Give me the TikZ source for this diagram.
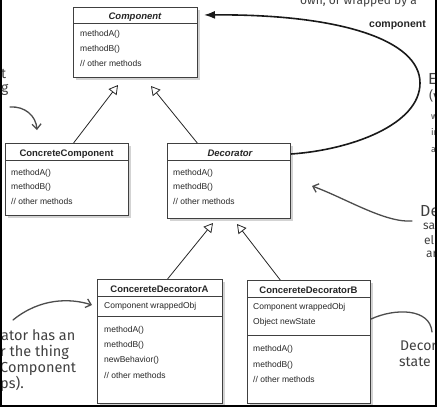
\documentclass[tikz,border=0pt]{standalone}
\usepackage{fontspec}
\setmainfont{Liberation Sans}
\newfontfamily\handfont{Fira Sans}
\usetikzlibrary{shadows,arrows.meta,calc}
\begin{document}
\begin{tikzpicture}[x=1pt,y=-1pt,
  box/.style={draw=black!75, line width=1pt, fill=white, inner sep=0pt, anchor=north west,
    drop shadow={opacity=0.35, shadow xshift=2.5pt, shadow yshift=-2.5pt}},
  sepline/.style={draw=black!75, line width=0.8pt},
  txt/.style={anchor=base west, inner sep=0pt, font=\fontsize{8.5}{10}\selectfont, text=black!85},
  ttl/.style={anchor=base, inner sep=0pt, font=\fontsize{9.5}{11}\selectfont\bfseries, text=black!85},
  ittl/.style={ttl, font=\fontsize{9.5}{11}\selectfont\bfseries\itshape},
  inh/.style={draw=black!85, line width=0.8pt, -{Triangle[open, length=9pt, width=10pt]}},
  handline/.style={draw=black!70, line width=1.3pt, line cap=round},
  handarrow/.style={handline, -{Straight Barb[length=5pt, width=9pt]}},
  handtxt/.style={inner sep=0pt, text=black!75, font=\handfont\fontsize{12}{14}\selectfont}]
\useasboundingbox (0,0) rectangle (439,408);

% ---------- boxes ----------
\node[box, minimum width=124pt, minimum height=70pt] (comp) at (73,7) {};
\draw[sepline] (comp.west |- 0,23) -- (comp.east |- 0,23);
\node[ittl] (compT) at (135,19) {Component};
\node[txt] (compA) at (80,36) {methodA()};
\node[txt] (compB) at (80,51) {methodB()};
\node[txt] (compO) at (80,66) {// other methods};

\node[box, minimum width=123pt, minimum height=72pt] (cc) at (5,143) {};
\draw[sepline] (cc.west |- 0,160) -- (cc.east |- 0,160);
\node[ttl] (ccT) at (66.5,156) {ConcreteComponent};
\node[txt] (ccA) at (11,175) {methodA()};
\node[txt] (ccB) at (11,189) {methodB()};
\node[txt] (ccO) at (11,204) {// other methods};

\node[box, minimum width=123pt, minimum height=75pt] (dec) at (167,143) {};
\draw[sepline] (dec.west |- 0,160) -- (dec.east |- 0,160);
\node[ittl] (decT) at (230,156) {Decorator};
\node[txt] (decA) at (173,175) {methodA()};
\node[txt] (decB) at (173,189) {methodB()};
\node[txt] (decO) at (173,204) {// other methods};

\node[box, minimum width=125pt, minimum height=124pt] (cda) at (97,279) {};
\draw[sepline] (cda.west |- 0,296) -- (cda.east |- 0,296);
\draw[sepline] (cda.west |- 0,316) -- (cda.east |- 0,316);
\node[ttl] (cdaT) at (159.5,292) {ConcereteDecoratorA};
\node[txt] (cdaW) at (104,308) {Component wrappedObj};
\node[txt] (cdaA) at (104,332) {methodA()};
\node[txt] (cdaB) at (104,347) {methodB()};
\node[txt] (cdaN) at (104,362) {newBehavior()};
\node[txt] (cdaO) at (104,378) {// other methods};

\node[box, minimum width=123pt, minimum height=123pt] (cdb) at (247,280) {};
\draw[sepline] (cdb.west |- 0,297) -- (cdb.east |- 0,297);
\draw[sepline] (cdb.west |- 0,335) -- (cdb.east |- 0,335);
\node[ttl] (cdbT) at (308.5,293) {ConcereteDecoratorB};
\node[txt] (cdbW) at (253,309) {Component wrappedObj};
\node[txt] (cdbS) at (253,324) {Object newState};
\node[txt] (cdbA) at (253,351) {methodA()};
\node[txt] (cdbB) at (253,367) {methodB()};
\node[txt] (cdbO) at (253,382) {// other methods};

% ---------- inheritance ----------
\coordinate (t1) at ($(comp.south west)+(45,7)$);
\coordinate (t2) at ($(comp.south west)+(78,8)$);
\coordinate (t3) at ($(dec.south west)+(46,4)$);
\coordinate (t4) at ($(dec.south west)+(70,5)$);
\draw[inh] ($(cc.north west)!0.553!(cc.north east)$) -- (t1);
\draw[inh] ($(dec.north west)!0.244!(dec.north east)$) -- (t2);
\draw[inh] ($(cda.north west)!0.56!(cda.north east)$) -- (t3);
\draw[inh] ($(cdb.north west)!0.268!(cdb.north east)$) -- (t4);

% ---------- composition loop ----------
\draw[line width=1.6pt, draw=black!90, shorten >=6pt, -{Latex[length=11pt, width=8pt]}]
  (dec.east |- 0,154) .. controls (350,150) and (420,125) .. (420,83)
  .. controls (420,40) and (340,14) .. (comp.east |- 0,15);

% ---------- handwritten annotations ----------
\begin{scope}
\clip (2,0) rectangle (435,405);
\node[handtxt, anchor=base west] (n1) at (300,4) {own, or wrapped by a};
\node[inner sep=0pt, anchor=base west, text=black!85, font=\fontsize{10.5}{12}\selectfont\bfseries] (n2) at (369,27) {component};
\node[handtxt, anchor=base west, font=\handfont\fontsize{16}{18}\selectfont] (n3) at (428,84) {E};
\node[handtxt, anchor=base west, font=\handfont\fontsize{13}{15}\selectfont] (n4) at (429,100) {(v};
\node[handtxt, anchor=base west, font=\handfont\fontsize{9}{11}\selectfont] (n5) at (431,119) {w};
\node[handtxt, anchor=base west, font=\handfont\fontsize{9}{11}\selectfont] (n6) at (431,135) {in};
\node[handtxt, anchor=base west, font=\handfont\fontsize{9}{11}\selectfont] (n7) at (431,152) {a};
\node[handtxt, anchor=base west, font=\handfont\fontsize{16}{18}\selectfont] (n8) at (420,216) {De};
\node[handtxt, anchor=base west] (n9) at (423,229) {sa};
\node[handtxt, anchor=base west] (n10) at (424,244) {el};
\node[handtxt, anchor=base west] (n11) at (426,257) {ar};
\node[handtxt, anchor=base west, font=\handfont\fontsize{14}{16}\selectfont] (n12) at (400,350) {Decor};
\node[handtxt, anchor=base west, font=\handfont\fontsize{14}{16}\selectfont] (n13) at (399,366) {state};
\node[handtxt, anchor=base west, font=\handfont\fontsize{14}{16}\selectfont] (n14) at (1,78) {t};
\node[handtxt, anchor=base west, font=\handfont\fontsize{14}{16}\selectfont] (n15) at (1,92) {g};
\node[handtxt, anchor=base west, font=\handfont\fontsize{14.5}{16}\selectfont] (n16) at (1,340) {ator has an};
\node[handtxt, anchor=base west, font=\handfont\fontsize{14.5}{16}\selectfont] (n17) at (0,356) {r the thing};
\node[handtxt, anchor=base west, font=\handfont\fontsize{14.5}{16}\selectfont] (n18) at (0,372) {Component};
\node[handtxt, anchor=base west, font=\handfont\fontsize{14.5}{16}\selectfont] (n19) at (0,388) {ps).};
\end{scope}

\coordinate (h1s) at (10,107);
\coordinate (h1e) at (37,130);
\draw[handarrow] (h1s) .. controls (25,106) and (36,116) .. (h1e);
\coordinate (h2s) at (412,221);
\coordinate (h2e) at (312,186);
\draw[handarrow] (h2s) .. controls (385,223) and (345,198) .. (h2e);
\coordinate (h3s) at (13,320);
\draw[handarrow] (h3s) .. controls (40,298) and (70,298) .. ($(cda.west |- 0,305)+(-5,0)$);
\coordinate (h4e) at (432,332);
\draw[handline] (cdb.east |- 0,319) .. controls (395,308) and (430,308) .. (h4e);

% ---------- frame ----------
\draw[line width=2pt, draw=black] (1,0) -- (1,406) -- (436,406) -- (436,0);
\end{tikzpicture}
\end{document}
